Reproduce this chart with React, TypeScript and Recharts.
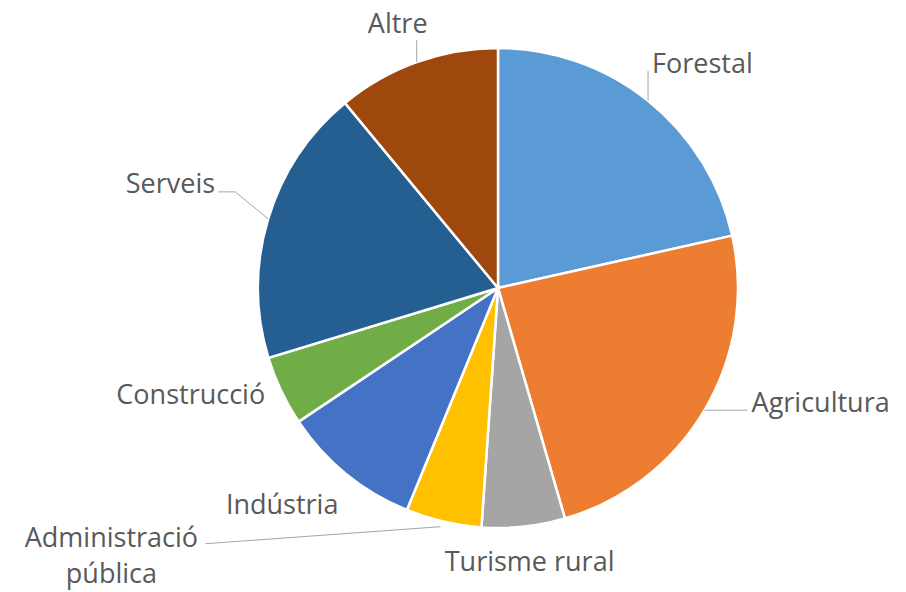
import { PieChart, Pie, Cell } from "recharts";

const categories = [
  "Forestal",
  "Agricultura",
  "Turisme rural",
  "Administració pública",
  "Indústria",
  "Construcció",
  "Serveis",
  "Altre",
];
const values = [21.5, 24.0, 5.6, 5.1, 9.4, 4.7, 18.7, 11.0];
const colors = ["#5B9BD5", "#ED7D31", "#A5A5A5", "#FFC000", "#4472C4", "#70AD47", "#255E91", "#9E480E"];

const data = categories.map((name, i) => ({ name, value: values[i] }));

const RADIAN = Math.PI / 180;
const TEXT = "#595959";
const LINE = "#A6A6A6";
const FONT = "'Open Sans', 'Noto Sans', sans-serif";

// label placement relative to the outer point of each slice (Excel-like manual layout)
function renderLabel(props: any) {
  const { cx, cy, midAngle, outerRadius, name } = props;
  const px = cx + outerRadius * Math.cos(-midAngle * RADIAN);
  const py = cy + outerRadius * Math.sin(-midAngle * RADIAN);
  const t = { fill: TEXT, fontSize: 27, fontFamily: FONT } as const;
  switch (name) {
    case "Forestal":
      return (
        <g>
          <line x1={px} y1={py} x2={px} y2={py - 30} stroke={LINE} strokeWidth={1} />
          <text x={px + 4} y={py - 28} {...t}>{name}</text>
        </g>
      );
    case "Agricultura":
      return (
        <g>
          <line x1={px} y1={py} x2={px + 43} y2={py} stroke={LINE} strokeWidth={1} />
          <text x={px + 47} y={py + 2} {...t}>{name}</text>
        </g>
      );
    case "Turisme rural":
      return <text x={px + 6} y={py + 44} textAnchor="middle" {...t}>{name}</text>;
    case "Administració pública":
      return (
        <g>
          <line x1={px - 3} y1={py + 5} x2={px - 238} y2={py + 22} stroke={LINE} strokeWidth={1} />
          <text x={px - 332} y={py + 25} textAnchor="middle" {...t}>Administració</text>
          <text x={px - 332} y={py + 61} textAnchor="middle" {...t}>pública</text>
        </g>
      );
    case "Indústria":
      return <text x={px - 64} y={py + 40} textAnchor="middle" {...t}>{name}</text>;
    case "Construcció":
      return <text x={px - 16} y={py + 13} textAnchor="end" {...t}>{name}</text>;
    case "Serveis":
      return (
        <g>
          <polyline
            points={`${px},${py} ${px - 33},${py - 27} ${px - 50},${py - 27}`}
            fill="none"
            stroke={LINE}
            strokeWidth={1}
          />
          <text x={px - 53} y={py - 26} textAnchor="end" {...t}>{name}</text>
        </g>
      );
    case "Altre":
      return (
        <g>
          <line x1={px} y1={py} x2={px} y2={py - 22} stroke={LINE} strokeWidth={1} />
          <text x={px - 19} y={py - 29} textAnchor="middle" {...t}>{name}</text>
        </g>
      );
    default:
      return null;
  }
}

export default function App() {
  return (
    <div style={{ position: "absolute", left: 0, top: 0, width: 906, height: 592, background: "#fff" }}>
      <PieChart width={906} height={592}>
        <Pie
          data={data}
          dataKey="value"
          nameKey="name"
          cx={493}
          cy={283}
          outerRadius={240}
          startAngle={90}
          endAngle={-270}
          stroke="#fff"
          strokeWidth={2.5}
          label={renderLabel}
          labelLine={false}
          isAnimationActive={false}
        >
          {data.map((d, i) => (
            <Cell key={d.name} fill={colors[i]} />
          ))}
        </Pie>
      </PieChart>
    </div>
  );
}
